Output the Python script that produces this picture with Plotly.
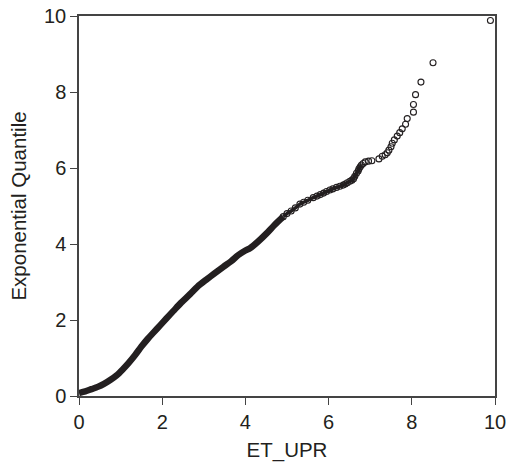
import plotly.graph_objects as go

# Dense lower part of the QQ cloud
dense_x = [0.00, 0.15, 0.30, 0.45, 0.60, 0.75, 0.90, 1.05, 1.20, 1.35, 1.50, 1.65, 1.80, 1.95,
           2.10, 2.27, 2.45, 2.67, 2.85, 3.07, 3.25, 3.47, 3.65, 3.83, 4.00, 4.11, 4.30, 4.51,
           4.70, 4.91]
dense_y = [0.08, 0.12, 0.18, 0.24, 0.32, 0.42, 0.54, 0.70, 0.88, 1.08, 1.30, 1.50, 1.68, 1.86,
           2.04, 2.24, 2.45, 2.68, 2.88, 3.07, 3.22, 3.40, 3.54, 3.71, 3.83, 3.89, 4.06, 4.28,
           4.50, 4.72]

# Thinner upper part of the cloud
upper_x = [4.91, 5.00, 5.10, 5.20, 5.31, 5.40, 5.50, 5.63, 5.72, 5.80, 5.88, 5.95, 6.03, 6.10,
           6.19, 6.27, 6.35, 6.40, 6.45, 6.51, 6.56, 6.60, 6.63, 6.67, 6.71, 6.73, 6.76, 6.79]
upper_y = [4.72, 4.80, 4.87, 4.95, 5.05, 5.10, 5.15, 5.22, 5.26, 5.30, 5.34, 5.38, 5.42, 5.45,
           5.49, 5.52, 5.55, 5.58, 5.61, 5.65, 5.68, 5.72, 5.78, 5.86, 5.92, 5.98, 6.03, 6.08]

# Sparse tail points
tail_x = [6.83, 6.88, 6.96, 7.04, 7.21, 7.29, 7.36, 7.41, 7.45, 7.50, 7.53, 7.58, 7.65, 7.71,
          7.77, 7.85, 7.89, 8.04, 8.04, 8.09, 8.22, 8.51, 9.89]
tail_y = [6.12, 6.16, 6.18, 6.19, 6.24, 6.31, 6.35, 6.40, 6.47, 6.56, 6.65, 6.74, 6.84, 6.93,
          7.03, 7.15, 7.30, 7.47, 7.67, 7.93, 8.26, 8.77, 9.88]

tick_vals = [0, 2, 4, 6, 8, 10]
tick_text = ["0", "2", "4", "6", "8", "10"]

ink = "#231f20"
font_family = "Liberation Sans, Arial, sans-serif"
fig = go.Figure()
fig.add_trace(go.Scatter(x=dense_x, y=dense_y, mode="lines",
                         line=dict(color=ink, width=6.5, shape="spline", smoothing=0.8),
                         hoverinfo="skip"))
fig.add_trace(go.Scatter(x=upper_x, y=upper_y, mode="lines+markers",
                         line=dict(color=ink, width=3.5, shape="spline", smoothing=0.6),
                         marker=dict(symbol="circle-open", size=6, color=ink, line=dict(width=1.1))))
fig.add_trace(go.Scatter(x=tail_x, y=tail_y, mode="markers",
                         marker=dict(symbol="circle-open", size=6, color=ink, line=dict(width=1.1))))

axis_common = dict(
    range=[0, 10], tickvals=tick_vals, ticktext=tick_text, automargin=False,
    ticklabeloverflow="allow",
    showgrid=False, zeroline=False, showline=True, linecolor="#444444", linewidth=1.5,
    mirror=True, ticks="outside", ticklen=7, tickwidth=1.2, tickcolor="#444444",
    tickfont=dict(family=font_family, size=20, color=ink),
)
fig.update_xaxes(**axis_common,
                 title=dict(text="ET_UPR", font=dict(family=font_family, size=20.5, color=ink), standoff=11))
fig.update_yaxes(**axis_common,
                 title=dict(text="Exponential Quantile", font=dict(family=font_family, size=20.5, color=ink), standoff=12))

fig.update_layout(
    width=507, height=465,
    margin=dict(l=78.5, r=11.5, t=16, b=69, autoexpand=False),
    paper_bgcolor="white", plot_bgcolor="white",
    showlegend=False,
)
# remove the default 8px page margin so the figure fills the window exactly
fig.write_html("out.html", config={"displayModeBar": False},
               post_script="document.body.style.margin='0';document.body.style.overflow='hidden';")
